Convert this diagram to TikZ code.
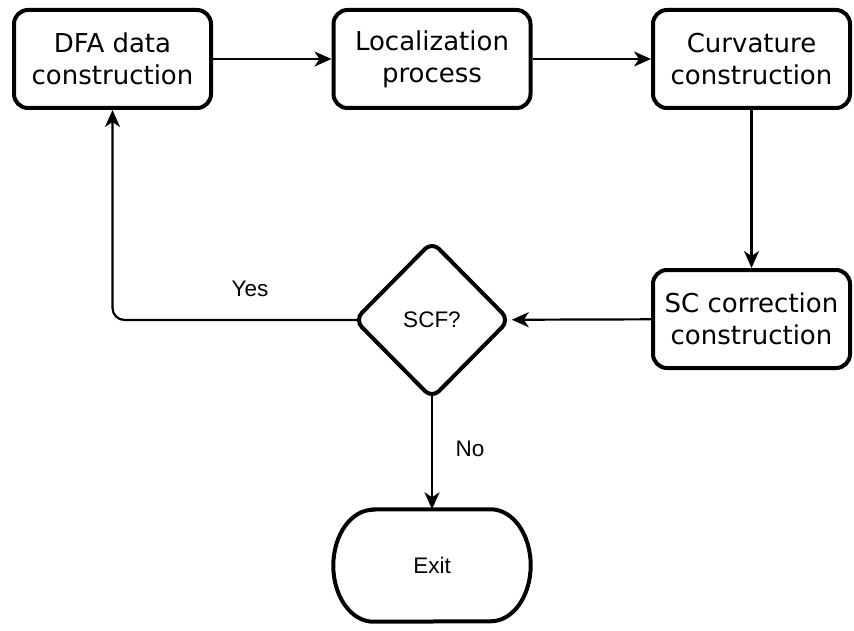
\documentclass[tikz,border=0pt]{standalone}
\usepackage{fontspec}
\setmainfont{DejaVu Sans}
\newfontfamily\arialf{Liberation Sans}
\usetikzlibrary{arrows.meta,shapes.geometric}
\begin{document}
\begin{tikzpicture}[x=1pt,y=-1pt,
 proc/.style={draw, line width=4pt, rounded corners=14pt, minimum width=197pt, minimum height=98pt, align=center, font=\fontsize{26}{32}\selectfont, inner sep=0pt},
 dec/.style={draw, line width=4pt, diamond, rounded corners=10pt, minimum width=156pt, minimum height=158pt, inner sep=0pt, font=\arialf\fontsize{22.5}{26}\selectfont},
 conn/.style={line width=2.2pt, -{Stealth[length=17pt,width=15pt,inset=5pt]}},
 lbl/.style={font=\arialf\fontsize{22.5}{26}\selectfont}]
\useasboundingbox (0,0) rectangle (854,631);
\node[proc] (dfa) at (112.5,59) {DFA data\\construction};
\node[proc] (loc) at (432,59) {Localization\\process};
\node[proc] (curv) at (751.5,59) {Curvature\\construction};
\node[proc] (sc) at (751.5,319) {SC correction\\construction};
\node[dec] (scf) at (432,320) {SCF?};
\node[minimum width=197pt, minimum height=112pt, inner sep=0pt, lbl] (exit) at (432,565.5) {Exit};
\draw[line width=4pt] ([xshift=40pt]exit.north west) -- ([xshift=-40pt]exit.north east)
  arc[start angle=90,end angle=-90,x radius=40pt,y radius=56pt]
  -- ([xshift=40pt]exit.south west)
  arc[start angle=270,end angle=90,x radius=40pt,y radius=56pt] -- cycle;
\draw[conn] (dfa) -- (loc);
\draw[conn] (loc) -- (curv);
\draw[conn] (curv) -- (sc);
\draw[conn] (sc) -- (scf);
\draw[conn, rounded corners=12pt] ([xshift=5pt]scf.west) -| (dfa.south);
\draw[conn] ([yshift=6pt]scf.south) -- (exit.north);
\node[lbl] (yes) at (250,289) {Yes};
\node[lbl] (no) at (470,449) {No};
\end{tikzpicture}
\end{document}
